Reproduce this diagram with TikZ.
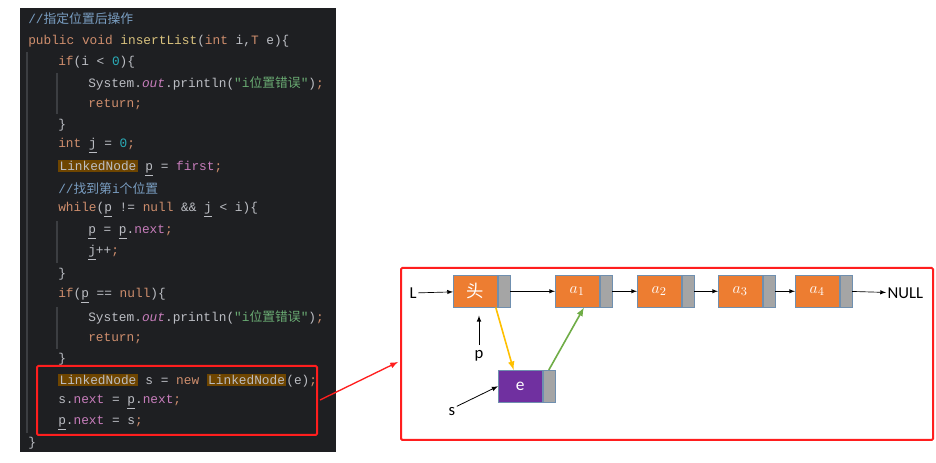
\documentclass[tikz,border=0pt]{standalone}
\usepackage{fontspec}
\usepackage{xcolor}
\setmainfont{Carlito}
\newfontfamily\codef{Liberation Mono}
\newfontfamily\cjk{Noto Sans CJK SC}
\definecolor{bgc}{HTML}{1E1F22}
\definecolor{kw}{HTML}{CF8E6D}
\definecolor{fnc}{HTML}{D9C27E}
\definecolor{num}{HTML}{2AACB8}
\definecolor{str}{HTML}{6AAB73}
\definecolor{pur}{HTML}{C77DBB}
\definecolor{txt}{HTML}{BCBEC4}
\definecolor{cmt}{HTML}{7A9EC2}
\definecolor{hl}{HTML}{6E4500}
\definecolor{guide}{HTML}{3C3E42}
\definecolor{org}{HTML}{ED7D31}
\definecolor{gry}{HTML}{A5A5A5}
\definecolor{bdr}{HTML}{6F8FAF}
\definecolor{purp}{HTML}{7030A0}
\definecolor{redc}{HTML}{FF1E1E}
\definecolor{yel}{HTML}{FFC000}
\definecolor{grn}{HTML}{70AD47}
\newcommand{\K}[1]{\textcolor{kw}{#1}}
\newcommand{\Pu}[1]{\textcolor{pur}{#1}}
\newcommand{\Nm}[1]{\textcolor{num}{#1}}
\newcommand{\Hl}[1]{{\setlength\fboxsep{1pt}\colorbox{hl}{\textcolor{txt}{#1}}}}
\newcommand{\Cj}[1]{{\cjk #1}}
\begin{document}
\begin{tikzpicture}[x=0.75pt,y=-0.75pt,
  codeline/.style={anchor=west,inner sep=0pt,text=txt,font=\codef\fontsize{9.6}{11}\selectfont},
  dat/.style={draw=bdr,fill=org,minimum width=33pt,minimum height=24pt,inner sep=0pt,anchor=north west,text=white,font=\fontsize{13}{14}\selectfont},
  ptr/.style={draw=bdr,fill=gry,minimum width=9pt,minimum height=24pt,inner sep=0pt,anchor=north west},
  lbl/.style={inner sep=1pt,font=\fontsize{12.5}{14}\selectfont},
  arr/.style={-latex,line width=0.6pt}]
\useasboundingbox (0,0) rectangle (936,463);
\fill[white] (0,0) rectangle (936,463);
\fill[bgc] (20,8) rectangle (336,452);
\draw[guide,line width=0.8pt] (27,52) -- (27,433);
\draw[guide,line width=0.8pt] (57,73) -- (57,114);
\draw[guide,line width=0.8pt] (57,221) -- (57,263);
\draw[guide,line width=0.8pt] (57,307) -- (57,349);
\node[codeline,text=cmt] (c1) at (28,19) {//\Cj{指定位置后操作}};
\node[codeline] (c2) at (28,41) {\K{public void }\textcolor{fnc}{insertList}(\K{int} i,\K{T} e)\{};
\node[codeline] (c3) at (58,62) {\K{if}(i < \Nm{0})\{};
\node[codeline] (c4) at (88,83) {System.\Pu{\textit{out}}.println(\textcolor{str}{"i\Cj{位置错误}"})\K{;}};
\node[codeline] (c5) at (88,104) {\K{return;}};
\node[codeline] (c6) at (58,125) {\}};
\node[codeline] (c7) at (58,146) {\K{int} \underline{j} = \Nm{0}\K{;}};
\node[codeline] (c8) at (58,168) {\Hl{LinkedNode} \underline{p} = \Pu{first}\K{;}};
\node[codeline,text=cmt] (c9) at (58,189) {//\Cj{找到第}i\Cj{个位置}};
\node[codeline] (c10) at (58,210) {\K{while}(\underline{p} != \K{null} \&\& \underline{j} < i)\{};
\node[codeline] (c11) at (88,232) {\underline{p} = \underline{p}.\Pu{next}\K{;}};
\node[codeline] (c12) at (88,253) {\underline{j}++\K{;}};
\node[codeline] (c13) at (58,274) {\}};
\node[codeline] (c14) at (58,296) {\K{if}(\underline{p} == \K{null})\{};
\node[codeline] (c15) at (88,317) {System.\Pu{\textit{out}}.println(\textcolor{str}{"i\Cj{位置错误}"})\K{;}};
\node[codeline] (c16) at (88,338) {\K{return;}};
\node[codeline] (c17) at (58,359) {\}};
\node[codeline] (c18) at (58,381) {\Hl{LinkedNode} s = \K{new} \Hl{LinkedNode}(e)\K{;}};
\node[codeline] (c19) at (58,402) {s.\Pu{next} = \underline{p}.\Pu{next}\K{;}};
\node[codeline] (c20) at (58,423) {\underline{p}.\Pu{next} = s\K{;}};
\node[codeline] (c21) at (28,443) {\}};
% red box around code
\draw[redc,line width=1.5pt,rounded corners=1pt] (37,366) rectangle (317,435);
\coordinate (boxR) at (320,400);
% diagram frame
\draw[redc,line width=1.5pt,rounded corners=1pt] (401,268) rectangle (933,440);
\coordinate (frameL) at (398,362);
\draw[redc,-latex,line width=1pt] (boxR) -- (frameL);
% list nodes
\node[dat] (h) at (453,275) {\Cj{头}};
\node[ptr] (hp) at (h.north east) {};
\node[dat] (a1) at (555,275) {$a_1$};
\node[ptr] (a1p) at (a1.north east) {};
\node[dat] (a2) at (637,275) {$a_2$};
\node[ptr] (a2p) at (a2.north east) {};
\node[dat] (a3) at (718,275) {$a_3$};
\node[ptr] (a3p) at (a3.north east) {};
\node[dat] (a4) at (795,275) {$a_4$};
\node[ptr] (a4p) at (a4.north east) {};
\node[dat,fill=purp,draw=bdr] (e) at (498,370) {e};
\node[ptr] (ep) at (e.north east) {};
\node[lbl,anchor=west] (L) at (408,293) {L};
\node[lbl,anchor=west] (null) at (886,293) {NULL};
\node[lbl] (p) at (479,356) {p};
\node[lbl] (s) at (452,412) {s};
\draw[arr,line width=0.5pt] (L) -- (h);
\draw[arr,line width=0.5pt] (hp) -- (a1);
\draw[arr,line width=0.5pt] (a1p) -- (a2);
\draw[arr,line width=0.5pt] (a2p) -- (a3);
\draw[arr,line width=0.5pt] (a3p) -- (a4);
\draw[arr,line width=0.5pt] (a4p) -- (null);
\draw[arr] (p.north) ++(0,-4) coordinate (pt) -- ([yshift=-6]h.south west -| pt);
\draw[arr] (s.north east) -- (e.west);
\draw[arr,yel,line width=1.2pt] ([xshift=-6pt]hp.south) -- ([xshift=-5pt]e.north);
\draw[arr,grn,line width=1.2pt] (ep.north) -- ([xshift=5pt]a1.south);
\end{tikzpicture}
\end{document}
